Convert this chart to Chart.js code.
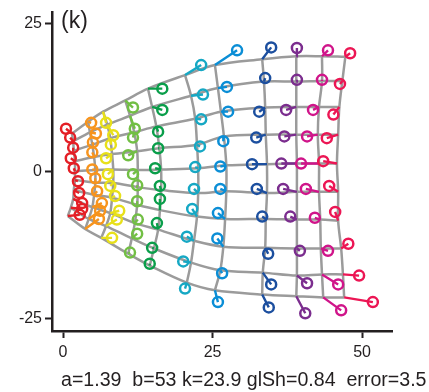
<!DOCTYPE html>
<html><head><meta charset="utf-8">
<script src="https://cdn.jsdelivr.net/npm/chart.js@4.4.1/dist/chart.umd.min.js"></script>
<style>
html,body{margin:0;padding:0;background:#fff;}
#wrap{position:relative;width:429px;height:392px;}
#panel{position:absolute;left:61px;top:9px;font:23px "Liberation Sans",Arial,sans-serif;color:#231f20;line-height:1;}
#params{position:absolute;left:61px;top:370px;font:19.6px "Liberation Sans",Arial,sans-serif;color:#231f20;white-space:pre;line-height:1;}
</style></head><body>
<div id="wrap"><canvas id="c" width="429" height="392"></canvas>
<div id="panel">(k)</div>
<div id="params">a=1.39  b=53 k=23.9 glSh=0.84  error=3.5</div></div>
<script>
// column colours (eccentricity bands)
const columnColors = ['#e41f26','#f7941d','#e8e01a','#72bf44','#0a9e4a','#16a8c4','#0b8ed6','#1c4f9f','#7b2d8e','#d0158a','#ec1654'];
const xTicks = [0, 25, 50];
const yTicks = [-25, 0, 25];
// model grid nodes: [column][row]
const nodeX = [
 [1.5,1.7,1.8,2.0,2.0,2.0,1.8,1.7,1.3,0.8],
 [4.2,4.5,4.9,5.2,5.4,5.4,5.2,4.9,4.3,3.7],
 [6.7,7.4,7.9,8.2,8.4,8.4,8.2,7.9,7.2,6.4],
 [10.4,11.2,11.9,12.4,12.5,12.5,12.4,12.0,11.5,10.9],
 [14.2,14.9,15.6,16.1,16.4,16.4,16.2,15.9,15.2,14.5],
 [20.4,21.4,22.1,22.4,22.6,22.6,22.4,21.9,21.4,20.7],
 [25.4,25.9,26.4,26.9,27.3,27.3,27.1,26.8,26.3,25.4],
 [33.3,33.6,33.8,33.9,34.1,34.1,33.9,33.8,33.4,33.3],
 [39.0,39.0,39.0,39.0,39.1,39.1,39.1,39.1,39.1,39.0],
 [43.3,43.3,42.8,42.6,42.8,42.8,43.0,43.1,43.3,43.5],
 [47.2,46.7,46.2,46.0,45.8,46.0,46.0,46.5,46.8,47.0]
];
const nodeY = [
 [6.4,5.1,3.5,1.7,0.0,-1.5,-3.2,-4.7,-6.2,-7.6],
 [8.4,6.6,4.5,2.4,0.2,-1.9,-4.0,-6.1,-8.1,-9.8],
 [10.1,7.9,5.6,2.9,0.3,-2.0,-4.5,-7.1,-9.3,-11.3],
 [12.0,9.4,6.6,3.4,0.2,-2.7,-5.7,-8.8,-11.4,-14.0],
 [14.0,10.9,7.6,3.9,0.3,-3.2,-6.6,-9.9,-13.1,-16.0],
 [16.3,12.8,8.9,4.5,0.5,-3.7,-7.7,-11.8,-15.5,-18.9],
 [18.0,14.1,10.1,5.9,1.0,-3.4,-8.1,-12.8,-16.8,-20.2],
 [19.0,15.2,10.8,6.2,1.2,-3.7,-8.1,-13.0,-17.2,-20.9],
 [19.5,15.2,10.9,6.2,1.3,-3.5,-8.2,-13.1,-17.7,-21.2],
 [19.5,15.3,10.9,6.2,1.3,-3.5,-8.2,-13.1,-17.5,-21.4],
 [19.4,15.3,10.9,6.2,1.3,-3.5,-8.4,-13.1,-17.5,-21.4]
];
// measured data points: [column][row]
const circX = [
 [0.5,1.2,1.7,1.3,1.8,2.5,2.7,3.2,3.2,2.8],
 [4.7,5.5,5.0,4.9,4.9,5.4,5.7,6.5,6.2,6.0],
 [7.2,8.4,8.0,7.2,7.5,7.9,8.7,9.4,9.0,8.2],
 [11.7,12.0,11.7,10.9,11.7,12.4,12.4,12.5,12.4,11.2],
 [16.6,16.6,15.9,15.9,15.4,16.2,16.2,15.7,14.9,14.5],
 [23.1,23.4,23.1,22.9,22.1,21.9,21.6,20.7,20.1,20.4],
 [29.1,27.4,27.6,26.8,26.3,26.3,25.9,25.8,26.6,25.9],
 [34.8,33.8,32.8,32.3,31.6,32.4,33.3,34.3,34.8,34.4],
 [39.1,39.1,37.3,37.0,36.5,36.8,38.0,39.6,40.8,40.5],
 [44.3,43.3,41.8,40.8,39.8,40.6,42.1,44.3,46.0,46.5],
 [48.0,46.3,45.2,44.1,43.5,44.5,45.5,47.7,49.5,51.8]
];
const circY = [
 [7.2,5.7,4.0,2.2,0.5,-1.7,-3.7,-5.4,-6.4,-7.4],
 [8.2,6.4,4.9,3.2,0.3,-1.2,-3.4,-5.4,-6.7,-8.1],
 [8.2,6.1,4.5,2.2,-0.5,-2.5,-4.2,-6.7,-8.2,-11.3],
 [10.8,7.2,5.7,2.7,-0.5,-2.4,-5.1,-8.2,-10.6,-13.8],
 [14.0,10.4,6.7,3.9,0.5,-2.5,-4.7,-8.8,-13.0,-15.7],
 [18.0,13.0,8.8,4.2,0.7,-3.0,-6.4,-11.1,-15.3,-19.9],
 [20.5,14.3,10.1,5.1,0.8,-3.0,-7.1,-11.4,-17.3,-22.2],
 [21.0,15.8,10.1,5.7,1.2,-3.0,-7.7,-14.0,-19.2,-23.1],
 [20.9,15.5,10.4,5.9,1.3,-3.0,-7.7,-13.5,-19.0,-24.1],
 [20.5,15.5,10.4,5.9,1.3,-3.0,-7.9,-13.5,-19.2,-23.6],
 [20.0,14.8,9.6,5.6,1.7,-2.5,-6.9,-12.3,-17.7,-22.2]
];

const GRID = '#9b9b9b';
const INK = '#231f20';
const nCols = nodeX.length, nRows = nodeX[0].length;
const datasets = [];
// horizontal grid curves
for (let r = 0; r < nRows; r++) {
  const d = [];
  for (let c = 0; c < nCols; c++) d.push({x: nodeX[c][r], y: nodeY[c][r]});
  datasets.push({data: d, borderColor: GRID, borderWidth: 2.5, pointRadius: 0, tension: 0.35, order: 3, fill: false});
}
// vertical grid curves
for (let c = 0; c < nCols; c++) {
  const d = [];
  for (let r = 0; r < nRows; r++) d.push({x: nodeX[c][r], y: nodeY[c][r]});
  datasets.push({data: d, borderColor: GRID, borderWidth: 2.5, pointRadius: 0, tension: 0.35, order: 3, fill: false});
}
// residual segments
for (let c = 0; c < nCols; c++) {
  const d = [];
  for (let r = 0; r < nRows; r++) {
    d.push({x: nodeX[c][r], y: nodeY[c][r]});
    d.push({x: circX[c][r], y: circY[c][r]});
    d.push({x: NaN, y: NaN});
  }
  datasets.push({data: d, borderColor: columnColors[c], borderWidth: 2.4, pointRadius: 0, tension: 0, spanGaps: false, order: 2, fill: false});
}
// data circles
for (let c = 0; c < nCols; c++) {
  const d = [];
  for (let r = 0; r < nRows; r++) d.push({x: circX[c][r], y: circY[c][r]});
  datasets.push({data: d, showLine: false, pointRadius: 5, pointBorderWidth: 2.5,
    pointBackgroundColor: 'rgba(0,0,0,0)', pointBorderColor: columnColors[c], order: 1});
}

new Chart(document.getElementById('c'), {
  type: 'line',
  data: {datasets},
  options: {
    responsive: false, animation: false, events: [],
    layout: {padding: {left: 0, right: 37, top: 10, bottom: 31}},
    plugins: {legend: {display: false}, tooltip: {enabled: false}, title: {display: false}},
    scales: {
      x: {
        type: 'linear', min: -1.84, max: 55.0,
        afterBuildTicks: a => { a.ticks = xTicks.map(v => ({value: v})); },
        afterFit: s => { s.height = 30; },
        grid: {drawOnChartArea: false, drawTicks: true, tickLength: 7, tickWidth: 2, tickColor: INK},
        border: {display: true, color: INK, width: 2.5},
        ticks: {color: INK, font: {family: '"Liberation Sans", Arial, sans-serif', size: 16}, padding: 5, maxRotation: 0}
      },
      y: {
        type: 'linear', min: -27.1, max: 26.9,
        afterBuildTicks: a => { a.ticks = yTicks.map(v => ({value: v})); },
        afterFit: s => { s.width = 52; },
        grid: {drawOnChartArea: false, drawTicks: true, tickLength: 7, tickWidth: 2, tickColor: INK},
        border: {display: true, color: INK, width: 2.5},
        ticks: {color: INK, font: {family: '"Liberation Sans", Arial, sans-serif', size: 16}, padding: 3}
      }
    }
  }
});
</script>
</body></html>
